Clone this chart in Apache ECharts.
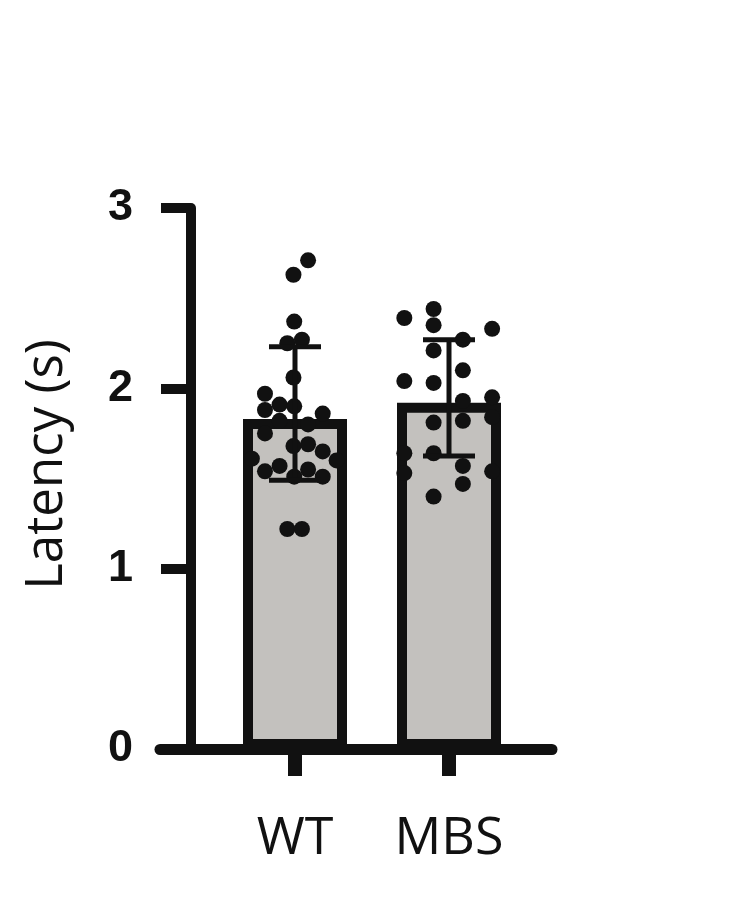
<!DOCTYPE html>
<html>
<head>
<meta charset="utf-8">
<script src="https://cdn.jsdelivr.net/npm/echarts@6/dist/echarts.min.js"></script>
<style>
html,body{margin:0;padding:0;background:#fff;}
#chart{width:742px;height:905px;}
</style>
</head>
<body>
<div id="chart"></div>
<script>
// groups and bar heights
var groups = ['WT', 'MBS'];
var means = [1.83, 1.92];
var sdLow = [1.49, 1.625];
var sdHigh = [2.23, 2.27];

// single animals (latency, s) with horizontal jitter inside the bar
var wtLatency = [2.71, 2.63, 2.37, 2.25, 2.27, 2.06, 1.97, 1.91, 1.90, 1.88, 1.86, 1.82, 1.80,
                 1.75, 1.68, 1.69, 1.65, 1.61, 1.60, 1.57, 1.54, 1.55, 1.51, 1.51, 1.22, 1.22];
var wtJitter = [0.085, -0.01, -0.005, -0.05, 0.045, -0.01, -0.195, -0.10, -0.005, -0.195, 0.18, -0.10, 0.085,
                -0.195, -0.01, 0.085, 0.18, -0.28, 0.27, -0.10, -0.195, 0.085, 0.18, -0.005, -0.05, 0.045];
var mbsLatency = [2.44, 2.39, 2.35, 2.33, 2.27, 2.21, 2.10, 2.04, 2.03, 1.93, 1.95, 1.81, 1.82,
                  1.84, 1.64, 1.64, 1.53, 1.57, 1.54, 1.47, 1.40];
var mbsJitter = [-0.10, -0.29, -0.10, 0.28, 0.09, -0.10, 0.09, -0.29, -0.10, 0.09, 0.28, -0.10, 0.09,
                 0.28, -0.29, -0.10, -0.29, 0.09, 0.28, 0.09, -0.10];

var ink = '#111';

function dots(vals, jit, idx) {
    var out = [];
    for (var i = 0; i < vals.length; i++) {
        out.push([idx + jit[i], vals[i]]);
    }
    return out;
}
var dotData = dots(wtLatency, wtJitter, 0).concat(dots(mbsLatency, mbsJitter, 1));

var errData = [];
for (var i = 0; i < groups.length; i++) {
    errData.push([i, sdLow[i], sdHigh[i]]);
}

var myChart = echarts.init(document.getElementById('chart'));
myChart.setOption({
    animation: false,
    grid: [
        {left: 218, right: 216, top: 208, bottom: 156},
        {left: 160, right: 190, top: 208, bottom: 156}
    ],
    xAxis: [
        {
            type: 'category', gridIndex: 0, data: groups,
            axisLine: {show: false, onZero: false},
            axisTick: {show: true, alignWithLabel: true, length: 27, lineStyle: {color: ink, width: 14}},
            axisLabel: {color: ink, fontSize: 52, fontFamily: 'Open Sans', margin: 64}
        },
        {
            type: 'value', gridIndex: 0, min: -0.5, max: 1.5, show: false
        },
        {
            // long base line
            type: 'value', gridIndex: 1, min: 0, max: 1,
            axisLine: {show: true, onZero: false, lineStyle: {color: ink, width: 11}},
            axisTick: {show: false}, axisLabel: {show: false}, splitLine: {show: false}
        }
    ],
    yAxis: [
        {
            type: 'value', gridIndex: 0, min: 0, max: 3, interval: 1, offset: 27,
            name: 'Latency (s)', nameLocation: 'middle', nameRotate: 90, nameGap: 118,
            nameTextStyle: {color: ink, fontSize: 51, fontFamily: 'Open Sans', padding: [0, 0, 0, 28]},
            axisLine: {show: true, onZero: false, lineStyle: {color: ink, width: 10}},
            axisTick: {show: true, length: 30, lineStyle: {color: ink, width: 10}},
            axisLabel: {color: ink, fontSize: 45, fontWeight: 'bold', fontFamily: 'Liberation Sans', margin: 58},
            splitLine: {show: false}
        },
        {
            type: 'value', gridIndex: 1, min: 0, max: 3, show: false
        }
    ],
    series: [
        {
            type: 'bar', xAxisIndex: 0, yAxisIndex: 0,
            data: means, barWidth: 104,
            itemStyle: {color: '#c3c1be', borderColor: ink, borderWidth: 10}
        },
        {
            type: 'scatter', xAxisIndex: 1, yAxisIndex: 0,
            data: dotData, symbolSize: 16,
            itemStyle: {color: ink, opacity: 1}
        },
        {
            type: 'custom', xAxisIndex: 0, yAxisIndex: 0,
            data: errData,
            renderItem: function (params, api) {
                var lo = api.coord([api.value(0), api.value(1)]);
                var hi = api.coord([api.value(0), api.value(2)]);
                var hw = 26;
                var st = {stroke: ink, lineWidth: 5};
                return {
                    type: 'group',
                    children: [
                        {type: 'line', shape: {x1: hi[0], y1: hi[1], x2: lo[0], y2: lo[1]}, style: st},
                        {type: 'line', shape: {x1: hi[0] - hw, y1: hi[1], x2: hi[0] + hw, y2: hi[1]}, style: st},
                        {type: 'line', shape: {x1: lo[0] - hw, y1: lo[1], x2: lo[0] + hw, y2: lo[1]}, style: st}
                    ]
                };
            },
            z: 5
        }
    ]
});
</script>
</body>
</html>
